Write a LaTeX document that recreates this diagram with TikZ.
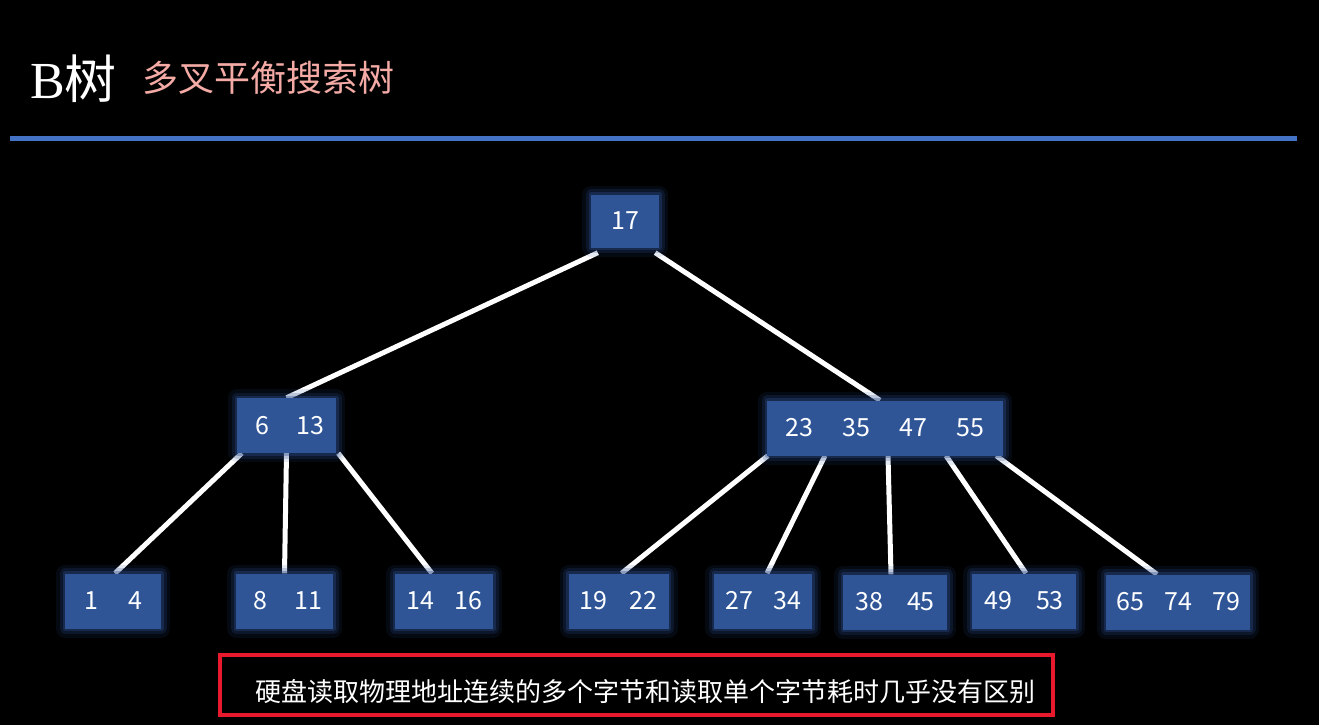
\documentclass[tikz,border=0pt]{standalone}
\usepackage{fontspec}
\setmainfont{Liberation Serif}
\newfontfamily\cjk{Noto Sans CJK SC}
\usetikzlibrary{backgrounds}
\definecolor{boxblue}{HTML}{2F5597}
\definecolor{glowblue}{HTML}{2A4C8C}
\definecolor{rulerblue}{HTML}{4472C4}
\definecolor{pinktext}{HTML}{F4AAA5}
\definecolor{alertred}{HTML}{E8192C}
\newcommand\kb[2][48pt]{\makebox[#1]{#2}}
\begin{document}
\begin{tikzpicture}[x=1pt,y=-1pt,
  keybox/.style={fill=boxblue, inner sep=0pt, minimum height=55pt, text=white,
    font=\cjk\fontsize{25}{25}\selectfont, line join=round,
    preaction={draw=glowblue, line width=18pt, opacity=0.12},
    preaction={draw=glowblue, line width=11pt, opacity=0.22},
    preaction={draw=glowblue, line width=5pt, opacity=0.35}},
  treeedge/.style={draw=white, line width=5pt}]
\useasboundingbox (0,0) rectangle (1319,725);
% title
\node[anchor=base west, text=white, inner sep=0pt, font=\fontsize{52}{52}\selectfont] (title) at (30,98) {B{\cjk 树}};
\node[anchor=base west, text=pinktext, inner sep=0pt, font=\cjk\fontsize{36}{36}\selectfont] (subtitle) at (142,92) {多叉平衡搜索树};
\coordinate (ruleL) at (10,138.5);
\coordinate (ruleR) at (1297,138.5);
\draw[rulerblue, line width=5pt] (ruleL) -- (ruleR);
% tree nodes
\node[keybox, minimum width=68pt, minimum height=53pt] (root) at (625,221) {17};
\node[keybox, minimum width=99pt] (n613) at (286.5,425.5) {\kb{6}\kb{13}};
\node[keybox, minimum width=236pt] (nR) at (885,428) {\kb[57pt]{23}\kb[57pt]{35}\kb[57pt]{47}\kb[57pt]{55}};
\node[keybox, minimum width=96pt] (l1) at (113,601) {\kb[44pt]{1}\kb[44pt]{4}};
\node[keybox, minimum width=97pt] (l2) at (284.5,601) {\kb{8}\kb{11}};
\node[keybox, minimum width=98pt] (l3) at (444,601) {\kb{14}\kb{16}};
\node[keybox, minimum width=99pt] (l4) at (618.5,601) {\kb[50pt]{19}\kb[50pt]{22}};
\node[keybox, minimum width=98pt] (l5) at (763,601) {\kb{27}\kb{34}};
\node[keybox, minimum width=98pt] (l6) at (895,602) {\kb[52pt]{38}\kb[52pt]{45}};
\node[keybox, minimum width=98pt] (l7) at (1024,601) {\kb[52pt]{49}\kb[52pt]{53}};
\node[keybox, minimum width=142pt] (l8) at (1178,602) {\kb{65}\kb{74}\kb{79}};
% note
\node[draw=alertred, line width=4pt, minimum width=833pt, minimum height=60pt, inner sep=0pt] (notebox) at (636.5,685) {};
\node[text=white, inner sep=0pt, font=\cjk\fontsize{26}{26}\selectfont] (notetext) at (645,692) {硬盘读取物理地址连续的多个字节和读取单个字节耗时几乎没有区别};
\begin{pgfonlayer}{background}
\fill[black] (0,0) rectangle (1319,725);
\draw[treeedge] ([xshift=7pt,yshift=-5pt]root.south west) -- (n613.north);
\draw[treeedge] ([xshift=-4pt,yshift=-5pt]root.south east) -- ([xshift=-5pt]nR.north);
\draw[treeedge] ([xshift=5pt]n613.south west) -- ([xshift=2pt]l1.north);
\draw[treeedge] (n613.south) -- (l2.north);
\draw[treeedge] ([xshift=2pt]n613.south east) -- ([xshift=-12pt]l3.north);
\draw[treeedge] ([xshift=1pt]nR.south west) -- ([xshift=3pt]l4.north);
\draw[treeedge] ([xshift=-60pt]nR.south) -- ([xshift=4pt]l5.north);
\draw[treeedge] ([xshift=3pt]nR.south) -- ([xshift=-4pt]l6.north);
\draw[treeedge] ([xshift=61pt]nR.south) -- ([xshift=2pt]l7.north);
\draw[treeedge] ([xshift=-7pt]nR.south east) -- ([xshift=-21pt]l8.north);
\end{pgfonlayer}
\end{tikzpicture}
\end{document}
